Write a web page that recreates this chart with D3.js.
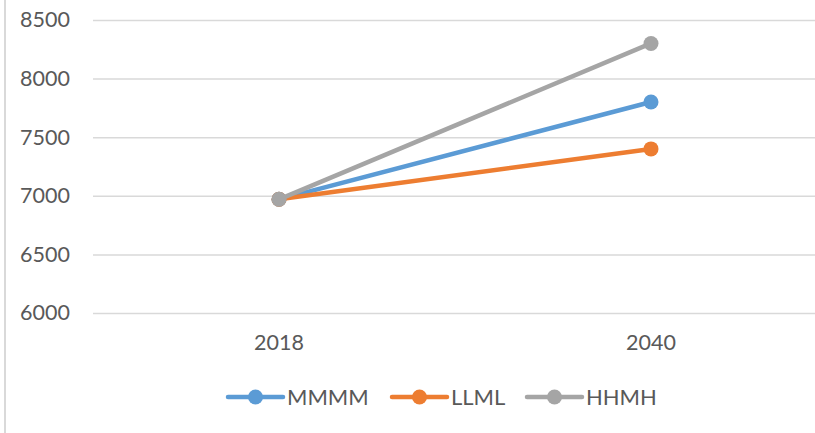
<!DOCTYPE html>
<html>
<head>
<meta charset="utf-8">
<script src="https://cdn.jsdelivr.net/npm/d3@7"></script>
<style>
  body { margin: 0; background: #fff; }
  svg { display: block; }
  text { font-family: Lato, "Open Sans", sans-serif; fill: #595959; }
</style>
</head>
<body>
<svg id="chart"></svg>
<script>
// chart data
const years = ["2018", "2040"];
const mmmm = [6970, 7800];
const llml = [6970, 7400];
const hhmh = [6970, 8300];
const yTicks = [6000, 6500, 7000, 7500, 8000, 8500];

const seriesNames = ["MMMM", "LLML", "HHMH"];
const seriesValues = [mmmm, llml, hhmh];
const colors = ["#5B9BD5", "#ED7D31", "#A5A5A5"];

const w = 815, h = 433;
const svg = d3.select("#chart").attr("width", w).attr("height", h);

const x = d3.scaleBand().domain(years).range([93, 837]);
const y = d3.scaleLinear().domain([6000, 8500]).range([313, 20]);

// left border of the chart area
svg.append("line")
  .attr("x1", 5).attr("x2", 5).attr("y1", 0).attr("y2", h)
  .attr("stroke", "#d9d9d9").attr("stroke-width", 2);

// gridlines + y labels
const yAxis = d3.axisLeft(y).tickValues(yTicks).tickFormat(d3.format("d"))
  .tickSize(-(837 - 93)).tickPadding(23);
const gy = svg.append("g").attr("transform", "translate(93,0)").call(yAxis);
gy.select(".domain").remove();
gy.selectAll(".tick line").attr("stroke", "#d9d9d9").attr("stroke-width", 1.5);
gy.selectAll(".tick text").attr("font-size", 21.5).style("fill", "#595959");

// x labels
const xAxis = d3.axisBottom(x).tickSize(0).tickPadding(22);
const gx = svg.append("g").attr("transform", "translate(0,313)").call(xAxis);
gx.select(".domain").remove();
gx.selectAll(".tick text").attr("font-size", 21.5).style("fill", "#595959");

const line = d3.line().x((d, i) => x(years[i]) + x.bandwidth() / 2).y(d => y(d));

seriesValues.forEach((vals, s) => {
  svg.append("path")
    .attr("d", line(vals))
    .attr("fill", "none")
    .attr("stroke", colors[s])
    .attr("stroke-width", 4.5)
    .attr("stroke-linecap", "round");
  svg.selectAll(null)
    .data(vals)
    .enter()
    .append("circle")
    .attr("cx", (d, i) => x(years[i]) + x.bandwidth() / 2)
    .attr("cy", d => y(d))
    .attr("r", 7.5)
    .attr("fill", colors[s]);
});

// legend
const legendX = [228, 392, 527];
const lg = svg.append("g").attr("transform", "translate(0,397)");
seriesNames.forEach((name, s) => {
  const g = lg.append("g").attr("transform", `translate(${legendX[s]},0)`);
  g.append("line").attr("x1", 0).attr("x2", 55)
    .attr("stroke", colors[s]).attr("stroke-width", 4.5).attr("stroke-linecap", "round");
  g.append("circle").attr("cx", 27.5).attr("r", 7.5).attr("fill", colors[s]);
  g.append("text").attr("x", 59).attr("dy", "0.36em").attr("font-size", 22).text(name);
});
</script>
</body>
</html>
